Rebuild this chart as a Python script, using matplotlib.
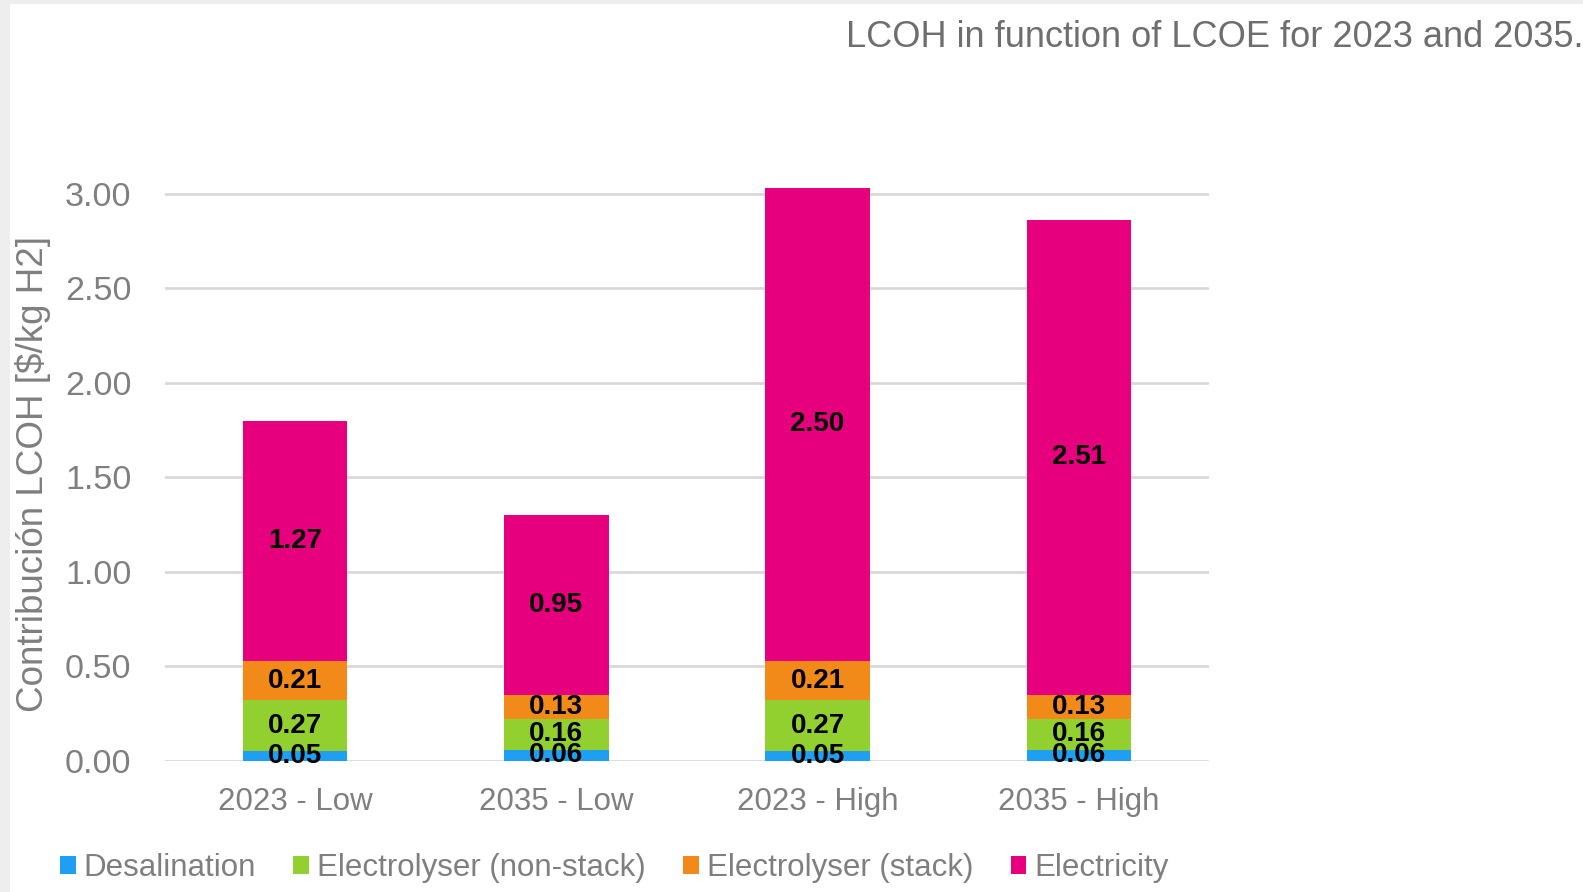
import numpy as np
import matplotlib.pyplot as plt
from matplotlib.patches import Rectangle

plt.rcParams['font.family'] = ['Liberation Sans', 'DejaVu Sans']

categorias = ['2023 - Low', '2035 - Low', '2023 - High', '2035 - High']
desalination = [0.05, 0.06, 0.05, 0.06]
electrolyser_non_stack = [0.27, 0.16, 0.27, 0.16]
electrolyser_stack = [0.21, 0.13, 0.21, 0.13]
electricity = [1.27, 0.95, 2.50, 2.51]

series = [
    ('Desalination', desalination, '#1E9FF2'),
    ('Electrolyser (non-stack)', electrolyser_non_stack, '#92D030'),
    ('Electrolyser (stack)', electrolyser_stack, '#F28A1A'),
    ('Electricity', electricity, '#E6007E'),
]

gris = '#7f7f7f'

fig = plt.figure(figsize=(15.83, 8.92), dpi=100)
fig.patch.set_facecolor('white')
# franjas grises del borde
fig.patches.append(Rectangle((0, 0), 10 / 1583, 1, transform=fig.transFigure,
                             facecolor='#eeeeee', edgecolor='none', zorder=0))
fig.patches.append(Rectangle((0, 1 - 4 / 892), 1, 4 / 892, transform=fig.transFigure,
                             facecolor='#eeeeee', edgecolor='none', zorder=0))

ax = fig.add_axes([0.104, 0.147, 0.66, 0.657])
x = np.arange(len(categorias))
base = np.zeros(len(categorias))
for nombre, valores, color in series:
    valores = np.array(valores)
    ax.bar(x, valores, width=0.4, bottom=base, color=color, label=nombre, zorder=3)
    for xi, b, v in zip(x, base, valores):
        ax.text(xi, b + v / 2, f'{v:.2f}', ha='center', va='center',
                fontsize=20, fontweight='bold', color='black', zorder=4)
    base = base + valores

ax.set_xlim(-0.5, 3.5)
ax.set_ylim(0, 3.1)
ax.set_yticks(np.arange(0, 3.01, 0.5))
ax.set_yticklabels([f'{t:.2f}' for t in np.arange(0, 3.01, 0.5)])
ax.set_xticks(x)
ax.set_xticklabels(categorias)
ax.tick_params(axis='both', length=0, colors=gris)
ax.tick_params(axis='y', pad=24, labelsize=24.5)
ax.tick_params(axis='x', pad=19, labelsize=22.5)
ax.yaxis.grid(True, color='#d9d9d9', linewidth=2, zorder=0)
for s in ax.spines.values():
    s.set_visible(False)

fig.text(33 / 1583, 0.469, 'Contribución LCOH [$/kg H2]', rotation=90,
         ha='center', va='center', fontsize=26.5, color=gris)

fig.text(846 / 1583, 0.958, 'LCOH in function of LCOE for 2023 and 2035.',
         ha='left', va='center', fontsize=26, color='#6e6e6e')

handles, labels = ax.get_legend_handles_labels()
leg = fig.legend(handles, labels, loc='center', bbox_to_anchor=(0.388, 0.027),
                 ncol=4, frameon=False, fontsize=22.5, handlelength=0.5,
                 handleheight=0.5, handletextpad=0.25, columnspacing=1.2,
                 labelcolor=gris)

fig.savefig('out.png', dpi=100, facecolor='white')
